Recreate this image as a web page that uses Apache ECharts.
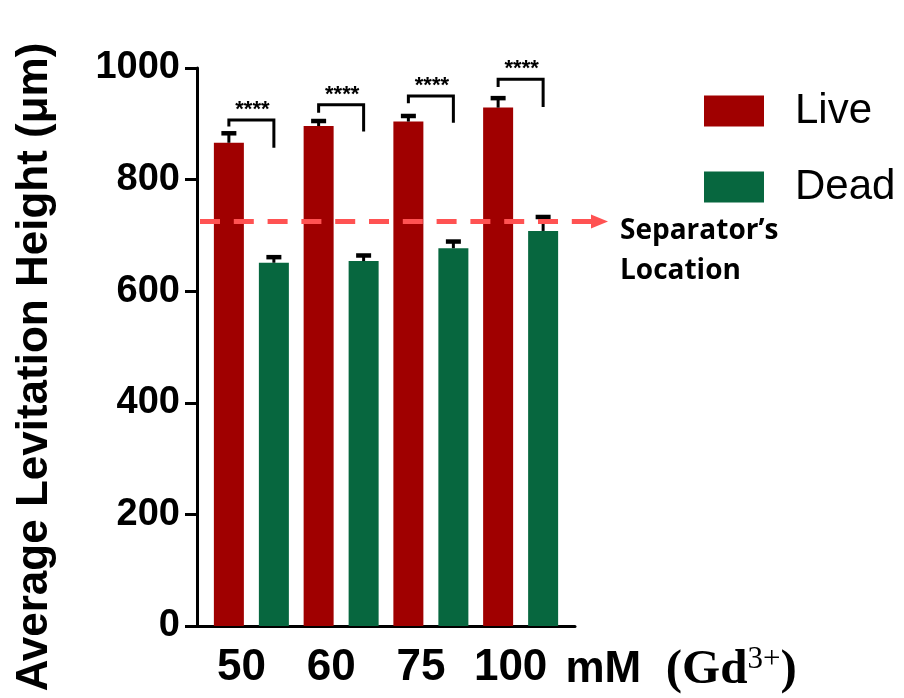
<!DOCTYPE html>
<html><head><meta charset="utf-8">
<script src="https://cdn.jsdelivr.net/npm/echarts@6/dist/echarts.min.js"></script>
<style>html,body{margin:0;padding:0;background:#fff}#c{width:904px;height:698px}</style>
</head><body><div id="c"></div>
<script>
const categories = ['50', '60', '75', '100'];
const liveValues = [866, 896, 904, 929];
const liveErrors = [17, 9, 10, 17];
const deadValues = [651, 654, 677, 708];
const deadErrors = [10, 10, 12, 25];
const yMin = 0, yMax = 1000, yInterval = 200;
const separatorValue = 725;
const bracketTop = [907, 934, 950, 980];
const bracketLeftEnd = [895, 920, 937, 966];
const bracketRightEnd = [857, 886, 902, 930];
const sigLabels = ['****', '****', '****', '****'];

const SANS = 'Liberation Sans, Arial, sans-serif';
const SERIF = 'Liberation Serif, Times New Roman, serif';
const LIVE_C = '#a00000', DEAD_C = '#07673f';
const BAR_W = 30, BAR_GAP = 0.5;
const BAR_OFF = (BAR_W + BAR_W * BAR_GAP) / 2;

const chart = echarts.init(document.getElementById('c'), null, {renderer: 'canvas'});

function errRender(sign) {
  return function (params, api) {
    const b = api.coord([api.value(0), api.value(1)]);
    const t = api.coord([api.value(0), api.value(1) + api.value(2)]);
    const x = b[0] + sign * BAR_OFF;
    return {type: 'group', children: [
      {type: 'line', shape: {x1: x, y1: b[1], x2: x, y2: t[1]}, style: {stroke: '#000', lineWidth: 3}},
      {type: 'line', shape: {x1: x - 7.5, y1: t[1], x2: x + 7.5, y2: t[1]}, style: {stroke: '#000', lineWidth: 4.5}}
    ]};
  };
}

function bracketRender(params, api) {
  const i = api.value(0);
  const top = api.coord([i, api.value(1)]);
  const le = api.coord([i, api.value(2)]);
  const re = api.coord([i, api.value(3)]);
  const xl = top[0] - BAR_OFF, xr = top[0] + BAR_OFF;
  return {type: 'group', children: [
    {type: 'polyline', shape: {points: [[xl, le[1]], [xl, top[1]], [xr, top[1]], [xr, re[1]]]},
     style: {stroke: '#000', lineWidth: 3, fill: null}},
    {type: 'text', style: {x: top[0] + 1, y: top[1] + 1, text: sigLabels[params.dataIndex],
      font: 'bold 22px ' + SANS, fill: '#000', align: 'center', verticalAlign: 'bottom'}}
  ]};
}

const option = {
  animation: false,
  backgroundColor: '#fff',
  grid: [
    {left: 197, top: 68, width: 378, height: 558},
    {left: 206.5, top: 68, width: 359, height: 558}
  ],
  legend: {
    data: ['Live', 'Dead'], orient: 'vertical', left: 699, top: 85,
    itemWidth: 60, itemHeight: 31, itemGap: 34, icon: 'rect',
    textStyle: {fontSize: 42, fontFamily: SANS, color: '#000', lineHeight: 42, padding: [0, 0, 0, 26]}
  },
  xAxis: [
    {gridIndex: 0, type: 'value', min: 0, max: 1,
     axisLine: {show: true, lineStyle: {color: '#000', width: 3}},
     axisTick: {show: false}, axisLabel: {show: false}, splitLine: {show: false}},
    {gridIndex: 1, type: 'category', data: categories,
     axisLine: {show: false}, axisTick: {show: false},
     axisLabel: {interval: 0, hideOverlap: false, fontSize: 44, fontWeight: 'bold', fontFamily: SANS,
       color: '#000', margin: 20, padding: [0, 20, 0, 0]},
     name: '{u|mM}{g|  (Gd}{s|3+}{g|)}', nameLocation: 'end', nameGap: 0,
     nameTextStyle: {verticalAlign: 'top', padding: [18, 0, 0, 0],
       rich: {
         u: {fontSize: 44, fontWeight: 'bold', fontFamily: SANS, color: '#000', lineHeight: 52},
         g: {fontSize: 49, fontWeight: 'bold', fontFamily: SERIF, color: '#000', lineHeight: 52},
         s: {fontSize: 31, fontWeight: 'normal', fontFamily: SERIF, color: '#000', lineHeight: 52, verticalAlign: 'top', padding: [0, 0, 16, 0]}
       }}}
  ],
  yAxis: [
    {gridIndex: 0, type: 'value', min: yMin, max: yMax, interval: yInterval,
     axisLine: {show: true, lineStyle: {color: '#000', width: 3}},
     axisTick: {show: true, length: 12, lineStyle: {color: '#000', width: 3}},
     axisLabel: {fontSize: 38, fontWeight: 'bold', fontFamily: SANS, color: '#000', margin: 17,
       formatter: v => String(v)},
     splitLine: {show: false},
     name: 'Average Levitation Height (μm)', nameLocation: 'middle', nameGap: 140,
     nameTextStyle: {fontSize: 44, fontWeight: 'bold', fontFamily: SANS, color: '#000', padding: [0, 40, 0, 0]}},
    {gridIndex: 1, type: 'value', min: yMin, max: yMax, show: false}
  ],
  series: [
    {name: 'Live', type: 'bar', xAxisIndex: 1, yAxisIndex: 1, data: liveValues,
     barWidth: BAR_W, barGap: (BAR_GAP * 100) + '%', itemStyle: {color: LIVE_C}},
    {name: 'Dead', type: 'bar', xAxisIndex: 1, yAxisIndex: 1, data: deadValues,
     barWidth: BAR_W, barGap: (BAR_GAP * 100) + '%', itemStyle: {color: DEAD_C}},
    {type: 'custom', xAxisIndex: 1, yAxisIndex: 1, z: 5, renderItem: errRender(-1),
     data: categories.map((c, i) => [i, liveValues[i], liveErrors[i]]), encode: {x: 0, y: 1}},
    {type: 'custom', xAxisIndex: 1, yAxisIndex: 1, z: 5, renderItem: errRender(1),
     data: categories.map((c, i) => [i, deadValues[i], deadErrors[i]]), encode: {x: 0, y: 1}},
    {type: 'custom', xAxisIndex: 1, yAxisIndex: 1, z: 5, renderItem: bracketRender,
     data: categories.map((c, i) => [i, bracketTop[i], bracketLeftEnd[i], bracketRightEnd[i]]), encode: {x: 0, y: 1}}
  ]
};
chart.setOption(option);

const sy = chart.convertToPixel({yAxisIndex: 0}, separatorValue);
chart.setOption({
  graphic: [
    {type: 'line', z: 10, shape: {x1: 200, y1: sy, x2: 592, y2: sy},
     style: {stroke: '#ff5252', lineWidth: 5, lineDash: [20, 13.8], lineCap: 'butt'}},
    {type: 'polygon', z: 10, shape: {points: [[591, sy - 7], [608, sy], [591, sy + 7]]},
     style: {fill: '#ff5252'}},
    {type: 'text', z: 10, left: 620, top: sy - 10,
     style: {text: 'Separator’s\nLocation', font: 'bold 28px "Open Sans", sans-serif', fill: '#000', lineHeight: 40}}
  ]
});
</script></body></html>
